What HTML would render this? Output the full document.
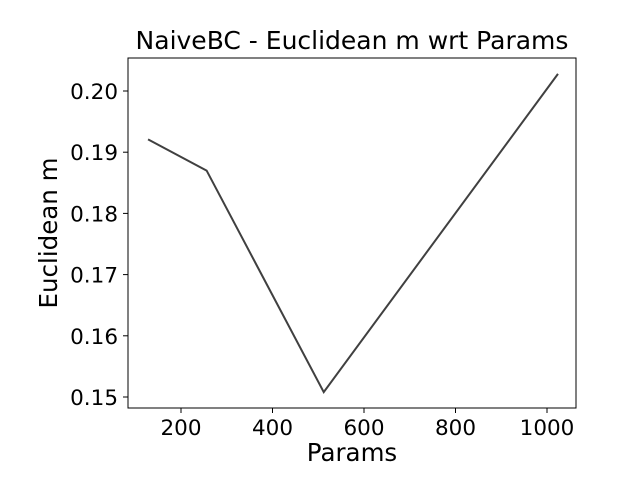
<!DOCTYPE html>
<html><head><meta charset="utf-8"><style>
body{margin:0;background:#fff;}
svg{display:block;font-family:"DejaVu Sans","Liberation Sans",sans-serif;}
</style></head><body>
<svg id="chart" width="640" height="480">
<rect x="0" y="0" width="640" height="480" fill="#fff"/>
<text x="352" y="49" text-anchor="middle" font-size="25">NaiveBC - Euclidean m wrt Params</text>
<text x="352" y="461" text-anchor="middle" font-size="24.5">Params</text>
<text transform="translate(57,233) rotate(-90)" text-anchor="middle" font-size="24.5">Euclidean m</text>
<g id="ticks"></g>
<path id="line" fill="none" stroke="#404040" stroke-width="2"/>
<rect x="128" y="58" width="448" height="350" fill="none" stroke="#000" stroke-width="1"/>
</svg>
<script>
const params = [128, 256, 512, 1024];
const euclid = [0.1921, 0.1870, 0.1508, 0.2028];
const xTicks = [200, 400, 600, 800, 1000];
const yTicks = [0.15, 0.16, 0.17, 0.18, 0.19, 0.20];
const yTickLabels = ["0.15", "0.16", "0.17", "0.18", "0.19", "0.20"];

function xs(v){ return 181 + (v - 200) * (366 / 800); }
function ys(v){ return 397 - (v - 0.15) * (306 / 0.05); }

const NS = "http://www.w3.org/2000/svg";
const g = document.getElementById('ticks');
xTicks.forEach(t => {
  const l = document.createElementNS(NS, 'line');
  l.setAttribute('x1', xs(t)); l.setAttribute('x2', xs(t));
  l.setAttribute('y1', 408); l.setAttribute('y2', 413);
  l.setAttribute('stroke', '#000');
  
  
  g.appendChild(l);
  const tx = document.createElementNS(NS, 'text');
  tx.setAttribute('x', xs(t)); tx.setAttribute('y', 435);
  tx.setAttribute('text-anchor', 'middle'); tx.setAttribute('font-size', '21.5');
  tx.textContent = t;
  
  
  g.appendChild(tx);
});
yTicks.forEach((t, i) => {
  const l = document.createElementNS(NS, 'line');
  l.setAttribute('x1', 123); l.setAttribute('x2', 128);
  l.setAttribute('y1', ys(t)); l.setAttribute('y2', ys(t));
  l.setAttribute('stroke', '#000');
  
  
  g.appendChild(l);
  const tx = document.createElementNS(NS, 'text');
  tx.setAttribute('x', 118); tx.setAttribute('y', ys(t) + 8);
  tx.setAttribute('text-anchor', 'end'); tx.setAttribute('font-size', '21.5');
  tx.textContent = yTickLabels[i];
  
  
  g.appendChild(tx);
});
document.getElementById('line').setAttribute('d',
  params.map((p, i) => (i ? 'L' : 'M') + xs(p) + ',' + ys(euclid[i])).join(' '));
</script>
</body></html>
